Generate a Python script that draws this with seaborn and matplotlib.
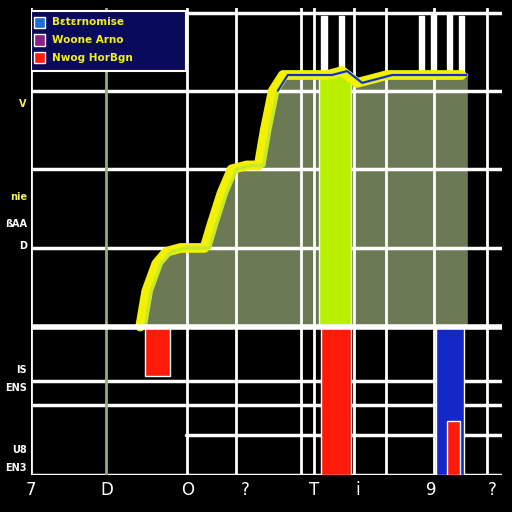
import numpy as np
import pandas as pd
import seaborn as sns
import matplotlib.pyplot as plt

# curve (step-like cumulative area)
curve_x = [11.4, 12.0, 13.0, 14.0, 15.4, 17.8, 18.5, 19.5, 20.5, 22.0, 23.2, 23.8, 24.6, 25.6, 30.0, 31.5, 33.0, 36.0, 38.0, 43.4]
curve_y = [0.0, 0.45, 0.8, 0.95, 1.0, 1.0, 1.3, 1.7, 2.0, 2.05, 2.05, 2.5, 3.0, 3.2, 3.2, 3.25, 3.1, 3.2, 3.2, 3.2]

# bars (x left, width, bottom, height, colour)
bar_left = [28.7, 28.9, 40.4, 41.4, 11.4]
bar_width = [3.2, 3.0, 2.7, 1.3, 2.5]
bar_bottom = [0.0, 0.0, 0.0, -1.2, 0.0]
bar_height = [3.2, -1.89, -1.89, -0.69, -0.63]
bar_color = ['#b8f000', '#ff1a0a', '#1428c8', '#ff1a0a', '#ff1a0a']

# thin white spikes above the plateau
spike_x = [29.2, 30.9, 38.9, 40.1, 41.7, 42.9]
spike_top = [3.95, 3.95, 3.95, 3.97, 3.97, 3.95]

# grid positions
hgrid = [3.99, 3.0, 2.0, 1.0, 0.0, -0.69, -1.0, -1.89]
vgrid = [0.0, 7.5, 15.6, 20.4, 26.9, 28.2, 32.2, 35.4, 40.2, 45.4]

xtick_pos = [0.0, 7.6, 15.6, 21.4, 28.2, 32.6, 39.9, 45.9]
xtick_lab = ['7', 'D', 'O', '?', 'T', 'i', '9', '?']
left_lab_y = [2.83, 1.65, 1.3, 1.03, -0.55, -0.78, -1.57, -1.8]
left_lab = ['V', 'nie', 'ßAA', 'D', 'IS', 'ENS', 'U8', 'EN3']

legend_labels = ['Bɛtɛrnomise', 'Woone Arno', 'Nwog HorBgn']
legend_colors = ['#1f6fd0', '#8a1f8a', '#ff1a0a']

sns.set_style('dark')
plt.rcParams['font.family'] = ['DejaVu Sans']

fig = plt.figure(figsize=(5.12, 5.12), dpi=100, facecolor='black')
ax = fig.add_axes([0.06, 0.072, 0.92, 0.912])
ax.set_facecolor('black')

# area under the curve
ax.fill_between(curve_x, curve_y, 0, color='#6b7a55', zorder=1)
df = pd.DataFrame({'x': curve_x, 'y': curve_y})
df_edge = pd.DataFrame({'x': [x - 0.5 for x in curve_x], 'y': curve_y})
sns.lineplot(data=df_edge, x='x', y='y', ax=ax, color='#f2f200', linewidth=7, zorder=3)
sns.lineplot(data=df, x='x', y='y', ax=ax, color='#c8e830', linewidth=2.5, zorder=3)
sns.lineplot(data=df[df['y'] >= 3.0], x='x', y='y', ax=ax, color='#1a2cc8', linewidth=1.5, zorder=4)

for l, w, b, h, c in zip(bar_left, bar_width, bar_bottom, bar_height, bar_color):
    ax.bar(l, h, width=w, bottom=b, align='edge', color=c, zorder=2)

ax.bar(spike_x, [t - 3.2 for t in spike_top], width=0.5, bottom=3.2, color='white', zorder=2)

for y in hgrid:
    ax.axhline(y, color='white', linewidth=4 if y == 0 else 2.5, zorder=5 if y == 0 else 1.5)
ax.axhline(-1.38, xmin=0.33, xmax=1.0, color='white', linewidth=2.5, zorder=1.5)
for x in vgrid:
    ax.axvline(x, color='#8fb070' if x == 7.5 else 'white', linewidth=2, zorder=1.5)

ax.set_xlim(0, 46.9)
ax.set_ylim(-1.89, 4.05)
ax.set_xticks(xtick_pos)
ax.set_xticklabels(xtick_lab, color='white', fontsize=12)
ax.set_yticks([])
ax.set_xlabel('')
ax.set_ylabel('')
ax.tick_params(axis='x', length=0, pad=4)
for s in ax.spines.values():
    s.set_visible(False)

tr = ax.get_yaxis_transform()
for y, t in zip(left_lab_y, left_lab):
    c = '#f0f060' if t in ('V', 'nie') else 'white'
    ax.text(-0.008, y, t, transform=tr, ha='right', va='center', color=c,
            fontsize=7, fontweight='bold', clip_on=False)

# legend box
ax.add_patch(plt.Rectangle((0.0, 0.865), 0.33, 0.13, transform=ax.transAxes,
                           facecolor='#0a0a5a', edgecolor='white', linewidth=1.5, zorder=6))
for i, (lab, col) in enumerate(zip(legend_labels, legend_colors)):
    yy = 0.97 - i * 0.038
    ax.add_patch(plt.Rectangle((0.008, yy - 0.012), 0.022, 0.024, transform=ax.transAxes,
                               facecolor=col, zorder=7))
    ax.text(0.045, yy, lab, transform=ax.transAxes, color='#f0f020', fontsize=7.5,
            fontweight='bold', va='center', zorder=7)

fig.savefig('out.png', dpi=100, facecolor='black')
